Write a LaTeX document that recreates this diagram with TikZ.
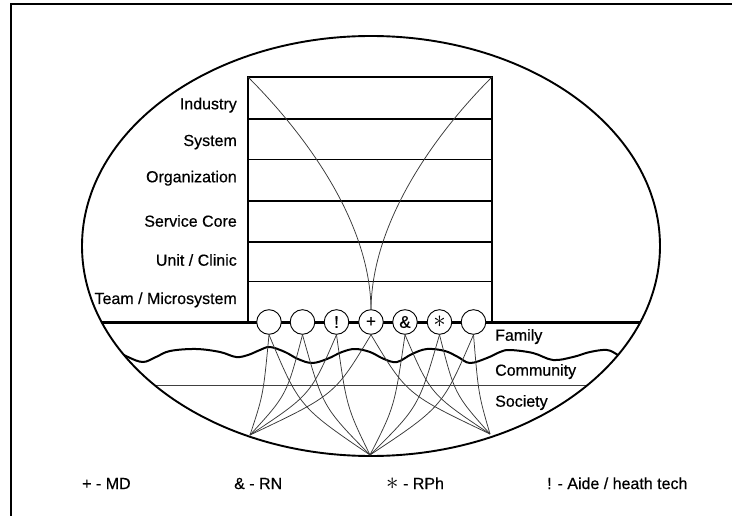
\documentclass[tikz,border=0pt]{standalone}
\usepackage{fontspec}
\setmainfont{Liberation Sans}[FakeBold=0.5]
\usetikzlibrary{calc}
\begin{document}
\begin{tikzpicture}[x=1pt,y=-1pt,
  frameline/.style={line width=1.8pt},
  outline/.style={line width=1.9pt},
  rowline/.style={line width=1.6pt},
  groundline/.style={line width=3pt},
  waveline/.style={line width=2pt, line join=round},
  thinline/.style={line width=0.9pt, black!75},
  fanline/.style={line width=0.75pt, black!78},
  member/.style={circle, draw, line width=0.9pt, fill=white, minimum size=24.6pt,
    inner sep=0pt, font=\fontsize{17}{17}\selectfont},
  level/.style={anchor=base east, inner sep=0pt, font=\fontsize{16}{19}\selectfont},
  ring/.style={anchor=base west, inner sep=0pt, font=\fontsize{16}{19}\selectfont},
  key/.style={anchor=base west, inner sep=0pt, font=\fontsize{16}{19}\selectfont}
]
\useasboundingbox (0,0) rectangle (732,516);

% frame edges
\draw[frameline] (11,516) -- (11,4) -- (732,4);

% layers below the stack, kept inside the oval
\begin{scope}
  \clip (371,246) ellipse [x radius=289, y radius=210];
  \draw[groundline] (60,322) -- (690,322);
  \draw[thinline] (60,385) -- (690,385);
  \draw[waveline] plot[smooth, tension=0.6] coordinates {
    (112,348) (128,357) (143,362) (156,357) (170,351) (196,349) (220,352)
    (236,357) (248,355) (260,350) (270,347) (285,352) (298,359) (312,363)
    (327,359) (342,352) (355,349) (370,352) (384,359) (397,362) (412,354)
    (427,349) (445,351) (458,357) (470,363) (487,358) (500,352) (510,350)
    (533,353) (553,360) (573,357) (590,352) (607,350) (618,355) (630,362)};
\end{scope}

% outer oval
\draw[outline] (371,246) ellipse [x radius=289, y radius=210];

% stack of levels
\coordinate (tl) at (248,77);
\coordinate (tr) at (492,77);
\draw[outline] (248,322) -- (tl) -- (tr) -- (492,322);
\foreach \r in {119,159.5,201,242,281.5}
  \draw[rowline] (248,\r) -- (492,\r);

\node[level] (industry) at (237,109.3) {Industry};
\node[level] (system) at (237,146) {System};
\node[level] (organization) at (237,182.3) {Organization};
\node[level] (core) at (237,226.7) {Service Core};
\node[level] (unit) at (237,265.7) {Unit / Clinic};
\node[level] (team) at (237,304) {Team / Microsystem};

\node[ring] (family) at (495,340.7) {Family};
\node[ring] (community) at (495,375.7) {Community};
\node[ring] (society) at (495,406.7) {Society};

% team members
\node[member] (c1) at (269,322) {};
\node[member] (c2) at (302.5,322) {};
\node[member] (c3) at (336.5,322) {!};
\node[member] (c4) at (371,322) {+};
\node[member] (c5) at (405,322) {\&};
\node[member] (c6) at (439.5,322) {\fontsize{24}{24}\selectfont$\ast$};
\node[member] (c7) at (473.5,322) {};

% reach from the top of the stack down to the MD
\draw[fanline] (tl) .. controls (303,132) and (370,220) .. (c4.north);
\draw[fanline] (tr) .. controls (437,132) and (372,220) .. (c4.north);

% anchor points on the lower rim
\coordinate (pL) at (250,435);
\coordinate (pM) at (370,455);
\coordinate (pR) at (490,434);

\newcommand\fanlink[2]{%
  \draw[fanline] let \p1=(#1), \p2=(#2) in
    (\p1) .. controls ({\x1+0.3*(\x2-\x1)},{\y1+0.6*(\y2-\y1)}) .. (\p2);}
\fanlink{c1.south}{pL}
\fanlink{c1.south}{pM}
\fanlink{c2.south}{pL}
\fanlink{c2.south}{pM}
\fanlink{c3.south}{pL}
\fanlink{c3.south}{pM}
\fanlink{c4.south}{pL}
\fanlink{c4.south}{pR}
\fanlink{c5.south}{pM}
\fanlink{c5.south}{pR}
\fanlink{c6.south}{pM}
\fanlink{c6.south}{pR}
\fanlink{c7.south}{pM}
\fanlink{c7.south}{pR}

% legend
\node[key] (kmd) at (82,489) {+ - MD};
\node[key] (krn) at (234,489) {\& - RN};
\node[key] (krph) at (386,489) {{\fontsize{24}{24}\selectfont$\ast$} - RPh};
\node[key] (kaide) at (547,489) {! - Aide / heath tech};
\end{tikzpicture}
\end{document}
